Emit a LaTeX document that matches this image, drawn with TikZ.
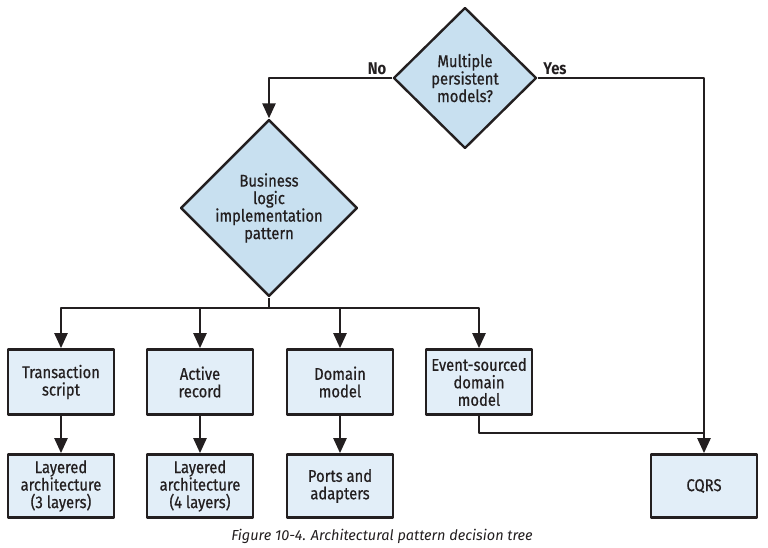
\documentclass[tikz,border=0pt]{standalone}
\usepackage{fontspec}
\setmainfont{Fira Sans}[FakeStretch=0.87, UprightFeatures={FakeBold=0.6}]
\newfontfamily\capfont{Fira Sans}
\usetikzlibrary{shapes.geometric,arrows.meta}
\definecolor{decfill}{RGB}{200,224,240}
\definecolor{boxfill}{RGB}{226,238,248}
\definecolor{ink}{RGB}{35,31,32}
\tikzset{
  txt/.style={text=ink, font=\fontsize{17}{17.5}\selectfont},
  decision/.style={diamond, draw=ink, line width=2.4pt, fill=decfill, inner sep=0pt, align=center, txt},
  patternbox/.style={rectangle, draw=ink, line width=2.7pt, fill=boxfill, minimum width=106pt, inner sep=0pt, align=center, txt},
  link/.style={draw=ink, line width=2.4pt},
  flow/.style={link, -{Triangle[width=13pt,length=15pt]}},
  answer/.style={text=ink, font=\bfseries\fontsize{17}{17.5}\selectfont}
}
\begin{document}
\begin{tikzpicture}[x=1pt, y=-1pt, line join = round]
\path[fill=white, use as bounding box] (0,0) rectangle (768,548);

\node[decision, minimum width=143pt, minimum height=141pt] (multi) at (465,78) {Multiple\\persistent\\models?};
\node[decision, minimum width=145pt, minimum height=143pt] (biz) at (269,208) {Business\\logic\\implementation\\pattern};

% first row of patterns
\node[patternbox, minimum height=65pt] (ts) at (61,382) {Transaction\\script};
\node[patternbox, minimum height=65pt] (ar) at (200,382) {Active\\record};
\node[patternbox, minimum height=65pt] (dm) at (340,382) {Domain\\model};
\node[patternbox, minimum height=65pt] (es) at (479,382) {Event-sourced\\domain\\model};

% architectural patterns
\node[patternbox, minimum height=63pt] (la3) at (61,486) {Layered\\architecture\\(3 layers)};
\node[patternbox, minimum height=63pt] (la4) at (200,486) {Layered\\architecture\\(4 layers)};
\node[patternbox, minimum height=63pt] (pa) at (340,486) {Ports and\\adapters};
\node[patternbox, minimum height=63pt] (cqrs) at (704,486) {CQRS};

\coordinate [] (split) at (269,308);
\coordinate [] (merge) at (704,433);

\draw[flow] (multi.west) -| (biz.north);
\draw[flow] (multi.east) -| (cqrs.north);
\node[answer] (no) at (377,69) {No};
\node[answer] (yes) at (555,69) {Yes};

\draw[link] (biz.south) -- (split);
\foreach \b in {ts,ar,dm,es}
    \draw[flow] (split) -| (\b.north);
\draw[flow] (ts) -- (la3);
\draw[flow] (ar) -- (la4);
\draw[flow] (dm) -- (pa);
\draw[link] (es.south) |- (merge);

\node[text=ink, font=\capfont\itshape\fontsize{14.5}{16}\selectfont] (caption) at (382,536) {Figure 10-4. Architectural pattern decision tree};
\end{tikzpicture}
\end{document}
